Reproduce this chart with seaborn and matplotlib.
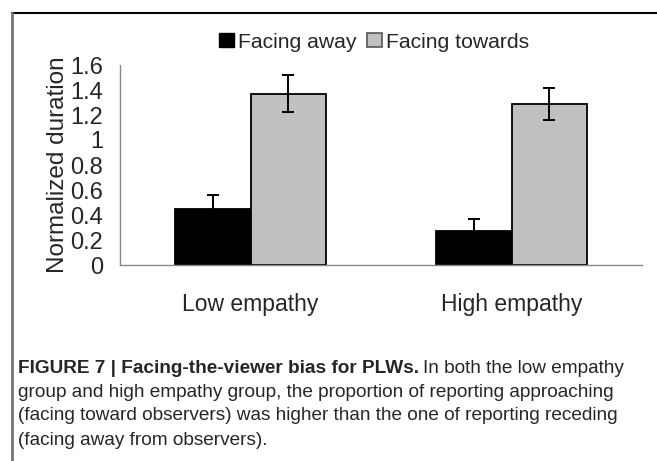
import pandas as pd
import numpy as np
import matplotlib.pyplot as plt
import seaborn as sns
from matplotlib.lines import Line2D
from matplotlib.patches import Patch

# values
groups = ['Low empathy', 'High empathy']
conditions = ['Facing away', 'Facing towards']
away_mean = [0.45, 0.27]
away_err = [0.11, 0.10]
towards_mean = [1.37, 1.29]
towards_err = [0.15, 0.13]
y_ticks = [0, 0.2, 0.4, 0.6, 0.8, 1, 1.2, 1.4, 1.6]
y_tick_labels = ['0', '0.2', '0.4', '0.6', '0.8', '1', '1.2', '1.4', '1.6']

df = pd.DataFrame({
    'group': groups * 2,
    'condition': [conditions[0]] * 2 + [conditions[1]] * 2,
    'value': away_mean + towards_mean,
    'err': away_err + towards_err,
})

sns.set_style('white')
plt.rcParams['font.family'] = ['Liberation Sans', 'DejaVu Sans']

fig = plt.figure(figsize=(6.57, 4.61), dpi=100)
ax = fig.add_axes([120 / 657, 1 - 265 / 461, 522 / 657, 200 / 461])

colors = ['black', '#c0c0c0']
sns.barplot(data=df, x='group', y='value', hue='condition', order=groups,
            hue_order=conditions, palette=colors, edgecolor='black',
            linewidth=1.3, width=0.575, errorbar=None, legend=False, ax=ax)

# error bars at the centres of the drawn bars
for cont, cond in zip(ax.containers, conditions):
    sub = df[df['condition'] == cond].set_index('group').loc[groups]
    xs = [b.get_x() + b.get_width() / 2 for b in cont]
    ax.errorbar(xs, sub['value'], yerr=sub['err'], fmt='none',
                ecolor='black', elinewidth=1.4, capsize=4.5, capthick=1.4,
                zorder=1)

ax.set_ylim(0, 1.6)
ax.set_xlim(-0.5, 1.5)
ax.set_yticks(y_ticks)
ax.set_yticklabels(y_tick_labels, fontsize=17)
ax.set_xticks([-0.5, 0.5, 1.5])
ax.set_xticklabels([])
ax.set_xticks([0, 1], minor=True)
ax.set_xticklabels(groups, minor=True, fontsize=16.5)
ax.tick_params(axis='x', which='minor', length=0, pad=20)
ax.tick_params(axis='both', which='major', direction='in', length=5,
               color='#888888', width=1)
ax.tick_params(axis='y', pad=12)
ax.set_xlabel('')
ax.set_ylabel('Normalized duration', fontsize=17.5, labelpad=1)

for side in ['top', 'right']:
    ax.spines[side].set_visible(False)
for side in ['left', 'bottom']:
    ax.spines[side].set_color('#888888')
    ax.spines[side].set_linewidth(1)

handles = [Patch(facecolor='black', edgecolor='black', linewidth=1),
           Patch(facecolor='#c0c0c0', edgecolor='#555555', linewidth=1.2)]
fig.legend(handles, conditions, loc='center', bbox_to_anchor=(374 / 657, 1 - 42 / 461),
           ncol=2, frameon=False, fontsize=15.2, handlelength=0.7, handleheight=0.7,
           handletextpad=0.2, columnspacing=0.5)

# panel frame
fig.add_artist(Line2D([12 / 657, 1], [1 - 13 / 461] * 2, color='black', lw=1.5))
fig.add_artist(Line2D([12 / 657] * 2, [0, 1 - 13 / 461], color='#777777', lw=2))

# caption
cap_font = ['Liberation Sans Narrow', 'Liberation Sans', 'DejaVu Sans']
x0 = 18 / 657
t = fig.text(x0, 1 - 368 / 461, 'FIGURE 7 | Facing-the-viewer bias for PLWs.',
             fontsize=13.7, fontweight='bold', family=cap_font, va='center')
fig.canvas.draw()
bb = t.get_window_extent().transformed(fig.transFigure.inverted())
fig.text(bb.x1 + 4 / 657, 1 - 368 / 461, 'In both the low empathy',
         fontsize=13.7, family=cap_font, va='center')
lines = ['group and high empathy group, the proportion of reporting approaching',
         '(facing toward observers) was higher than the one of reporting receding',
         '(facing away from observers).']
for i, line in enumerate(lines):
    fig.text(x0, 1 - (392 + 24 * i) / 461, line, fontsize=13.7,
             family=cap_font, va='center')

fig.savefig('out.png', dpi=100)
